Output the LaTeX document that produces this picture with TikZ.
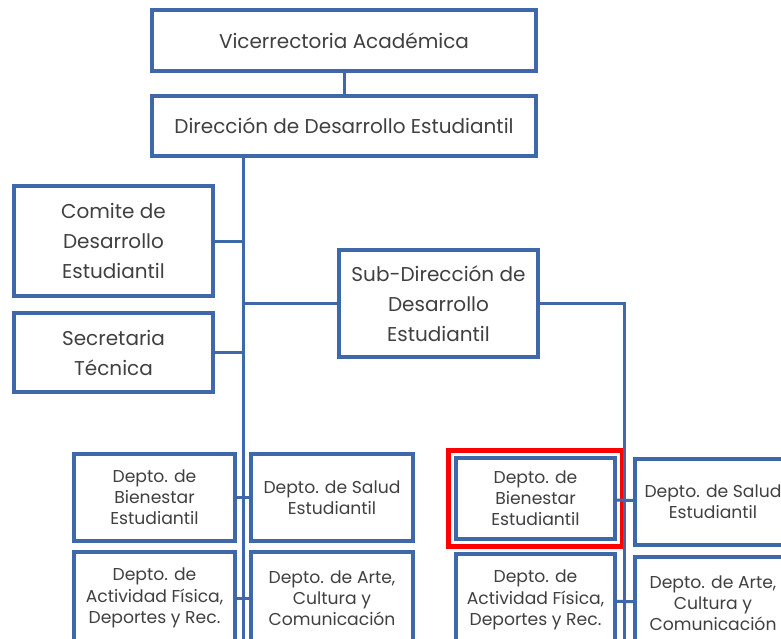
\documentclass[tikz,border=0pt]{standalone}
\usepackage{fontspec}
\setmainfont{Poppins}
\usetikzlibrary{fit}
\definecolor{boxblue}{RGB}{62,104,170}
\definecolor{textgray}{RGB}{64,64,64}
\tikzset{
  unit/.style={draw=boxblue, line width=1.8pt, fill=white, align=center, text=textgray,
    inner sep=2pt, font=\fontsize{10}{15}\selectfont},
  depto/.style={unit, line width=1.6pt, inner sep=1pt, font=\fontsize{8.6}{10.6}\selectfont},
  link/.style={draw=boxblue, line width=1.5pt},
  selbox/.style={draw=red, line width=2.2pt, inner sep=3pt}
}
\begin{document}
\begin{tikzpicture}[x=0.5pt,y=-0.5pt]
  \useasboundingbox (0,0) rectangle (781,638);
  \clip (0,0) rectangle (781,638);
  \fill[white] (0,0) rectangle (781,638);
  % trunk ends (below the page)
  \coordinate (trunk) at (243,660);
  \coordinate (rtrunk) at (624,660);
  % upper levels
  \node[unit, minimum width=192pt, minimum height=30.5pt] (vice) at (344,40.5) {Vicerrectoria Académica};
  \node[unit, minimum width=192pt, minimum height=30pt] (dir) at (344,126) {Dirección de Desarrollo Estudiantil};
  \node[unit, minimum width=99.5pt, minimum height=55pt] (comite) at (113.5,241) {Comite de\\Desarrollo\\Estudiantil};
  \node[unit, minimum width=99.5pt, minimum height=39.5pt] (secret) at (113.5,352.5) {Secretaria\\Técnica};
  \node[unit, minimum width=99.5pt, minimum height=53.5pt] (subdir) at (438.5,303.5) {Sub-Dirección de\\Desarrollo\\Estudiantil};
  % departamentos, left
  \node[depto, minimum width=80.5pt, minimum height=43.5pt] (bienL) at (154.5,497.5) {Depto. de\\Bienestar\\Estudiantil};
  \node[depto, minimum width=81pt, minimum height=43.5pt] (saludL) at (332,497.5) {Depto. de Salud\\Estudiantil};
  \node[depto, minimum width=80.5pt, minimum height=46pt] (actL) at (154.5,598) {Depto. de\\Actividad Física,\\Deportes y Rec.};
  \node[depto, minimum width=81pt, minimum height=46pt] (arteL) at (332,598) {Depto. de Arte,\\Cultura y\\Comunicación};
  % departamentos, right
  \node[depto, minimum width=79.5pt, minimum height=40.5pt] (bienR) at (535.5,498.5) {Depto. de\\Bienestar\\Estudiantil};
  \node[depto, minimum width=78pt, minimum height=43pt] (saludR) at (713,502) {Depto. de Salud\\Estudiantil};
  \node[depto, minimum width=79.5pt, minimum height=46pt] (actR) at (535.5,600) {Depto. de\\Actividad Física,\\Deportes y Rec.};
  \node[depto, minimum width=78pt, minimum height=46pt] (arteR) at (713,603) {Depto. de Arte,\\Cultura y\\Comunicación};
  \node[selbox, fit=(bienR)] (sel) {};
  % connectors
  \draw[link] (vice) -- (dir);
  \draw[link] (dir.south -| trunk) -- (trunk);
  \draw[link] (comite.east) -- (comite.east -| trunk);
  \draw[link] (secret.east) -- (secret.east -| trunk);
  \draw[link] (subdir.west) -- (subdir.west -| trunk);
  \draw[link] (subdir.east) -- (subdir.east -| rtrunk) -- (rtrunk);
  \draw[link] (bienL) -- (saludL);
  \draw[link] (actL) -- (arteL);
  \draw[link] (bienR) -- (saludR);
  \draw[link] (actR) -- (arteR);
\end{tikzpicture}
\end{document}
